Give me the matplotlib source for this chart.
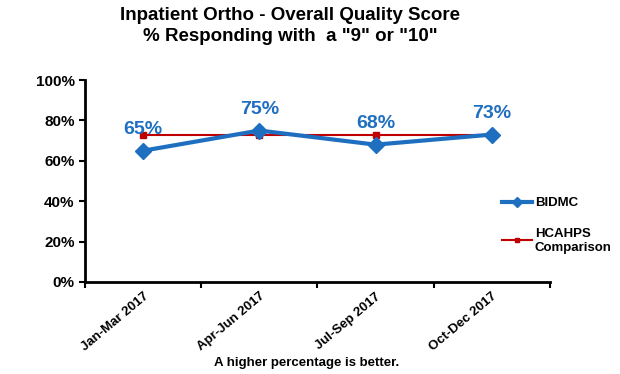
import matplotlib.pyplot as plt
import matplotlib.ticker as mticker

plt.rcParams['font.family'] = ['Liberation Sans', 'DejaVu Sans']

quarters = ['Jan-Mar 2017', 'Apr-Jun 2017', 'Jul-Sep 2017', 'Oct-Dec 2017']
bidmc = [65, 75, 68, 73]
hcahps = [73, 73, 73, 73]

blue = '#1f6fc1'
red = '#c00000'

fig = plt.figure(figsize=(6.2, 3.74), dpi=100)
ax = fig.add_axes([0.137, 0.246, 0.75, 0.54])

x = list(range(len(quarters)))
ax.plot(x, hcahps, color=red, lw=1.5, marker='s', ms=4, label='HCAHPS\nComparison', zorder=2)
ax.plot(x, bidmc, color=blue, lw=3, marker='D', ms=8, label='BIDMC', zorder=3)

for xi, v in zip(x, bidmc):
    ax.annotate(f'{v}%', (xi, v), xytext=(0, 9), textcoords='offset points',
                ha='center', va='bottom', color=blue, fontsize=14,
                fontweight='bold', zorder=4)

ax.set_xlim(-0.5, len(quarters) - 0.5)
ax.set_ylim(0, 100)
ax.yaxis.set_major_locator(mticker.MultipleLocator(20))
ax.yaxis.set_major_formatter(mticker.FuncFormatter(lambda v, p: f'{v:.0f}%'))
ax.set_xticks(x)
ax.set_xticklabels(quarters, rotation=40, ha='right', rotation_mode='anchor',
                   fontsize=9.5, fontweight='bold')
ax.set_xticks([i - 0.5 for i in range(len(quarters) + 1)], minor=True)
ax.tick_params(axis='x', which='major', length=0, pad=6)
ax.tick_params(axis='x', which='minor', length=4, width=1.5, direction='out')
ax.tick_params(axis='y', length=4, width=1.5, labelsize=11)
for lbl in ax.get_yticklabels():
    lbl.set_fontweight('bold')

for s in ['top', 'right']:
    ax.spines[s].set_visible(False)
for s in ['left', 'bottom']:
    ax.spines[s].set_linewidth(2)

handles, labels = ax.get_legend_handles_labels()
leg = fig.legend(handles[::-1], labels[::-1], loc='upper left', bbox_to_anchor=(0.79, 0.505),
                 frameon=False, prop={'weight': 'bold', 'size': 9.5}, handlelength=2.3,
                 labelspacing=1.4, handletextpad=0.2, markerscale=0.7)

fig.text(0.468, 0.98, 'Inpatient Ortho - Overall Quality Score\n% Responding with  a "9" or "10"',
         ha='center', va='top', fontsize=13.5, fontweight='bold', linespacing=1.3)
fig.text(0.495, 0.03, 'A higher percentage is better.', ha='center', va='center',
         fontsize=9.5, fontweight='bold')

fig.savefig('out.png', dpi=100)
